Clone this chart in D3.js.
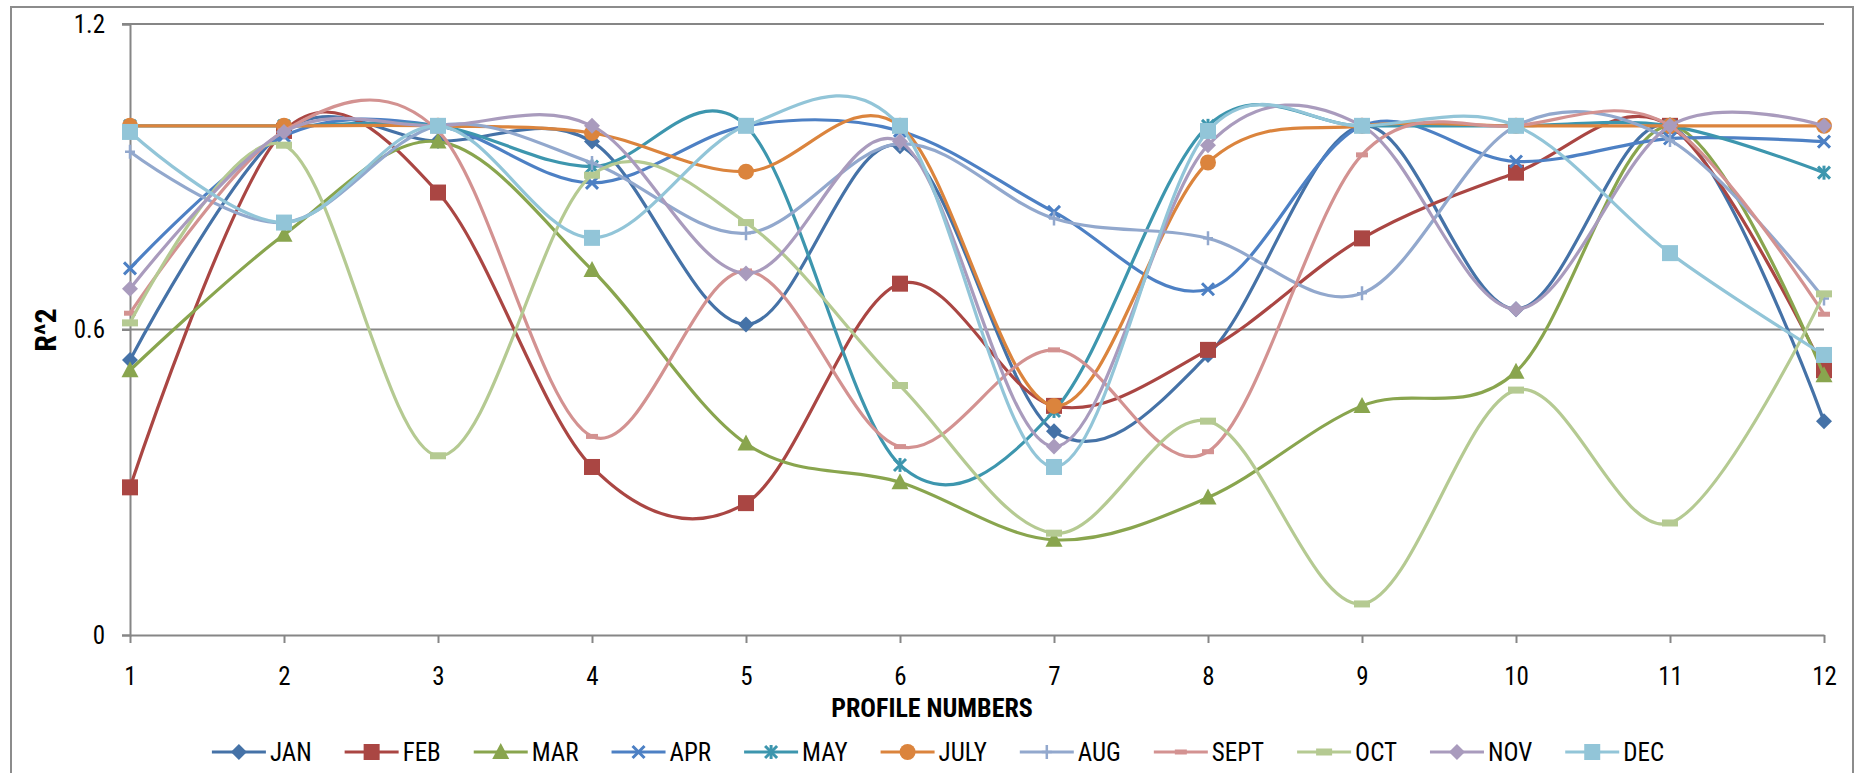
<!DOCTYPE html>
<html>
<head>
<meta charset="utf-8">
<script src="https://cdnjs.cloudflare.com/ajax/libs/d3/7.8.5/d3.min.js"></script>
<style>
  body { margin: 0; background: #fff; }
  svg text { font-family: "Liberation Sans Narrow", "Arial Narrow", "Roboto Condensed", "DejaVu Sans Condensed", sans-serif; fill: #000; }
</style>
</head>
<body>
<div id="chart_box"></div>
<script>
// profile numbers on the x axis
profileNumbers = [1, 2, 3, 4, 5, 6, 7, 8, 9, 10, 11, 12]
yTickValues = [0, 0.6, 1.2]
yTickLabels = ["0", "0.6", "1.2"]

monthNames = ["JAN", "FEB", "MAR", "APR", "MAY", "JULY", "AUG", "SEPT", "OCT", "NOV", "DEC"]
monthColors = ["#4572A7", "#AA4643", "#89A54E", "#4D80C4", "#3D96AE", "#DB843D", "#92A8CD", "#D39291", "#B5CA92", "#A99BBD", "#92C5D8"]
monthMarkers = ["diamond", "square", "triangle", "cross", "star", "circle", "plus", "dash", "bar", "diamond", "square"]

// R^2 per profile
janValues = [0.54, 0.99, 0.97, 0.969, 0.61, 0.96, 0.40, 0.55, 1.0, 0.64, 1.0, 0.42]
febValues = [0.29, 0.99, 0.869, 0.33, 0.259, 0.69, 0.45, 0.56, 0.779, 0.908, 1.0, 0.52]
marValues = [0.52, 0.786, 0.969, 0.717, 0.376, 0.30, 0.187, 0.27, 0.45, 0.517, 1.0, 0.51]
aprValues = [0.72, 0.98, 1.0, 0.888, 1.0, 0.99, 0.831, 0.679, 1.0, 0.93, 0.975, 0.969]
mayValues = [1.0, 1.0, 1.0, 0.92, 1.0, 0.334, 0.44, 1.0, 1.0, 1.0, 1.0, 0.908]
julyValues = [1.0, 1.0, 1.0, 0.986, 0.91, 1.0, 0.45, 0.928, 1.0, 1.0, 1.0, 1.0]
augValues = [0.949, 0.81, 1.0, 0.927, 0.789, 0.965, 0.818, 0.779, 0.671, 1.0, 0.972, 0.661]
septValues = [0.632, 0.99, 0.99, 0.39, 0.715, 0.37, 0.56, 0.36, 0.943, 1.0, 1.0, 0.63]
octValues = [0.613, 0.962, 0.352, 0.903, 0.81, 0.49, 0.20, 0.42, 0.061, 0.481, 0.22, 0.67]
novValues = [0.68, 0.988, 1.0, 1.0, 0.71, 0.969, 0.37, 0.962, 1.0, 0.64, 1.0, 1.0]
decValues = [0.988, 0.81, 1.0, 0.78, 1.0, 1.0, 0.33, 0.99, 1.0, 1.0, 0.75, 0.55]

monthValues = [janValues, febValues, marValues, aprValues, mayValues, julyValues,
    augValues, septValues, octValues, novValues, decValues]

chartWidth = 1856
chartHeight = 773
plotLeft = 130
plotRight = 1824
plotTop = 24
plotBottom = 635
axisColor = "#868686"


function draw_marker(g, shape, color) {
    if (shape == "diamond") {
        g.append("path").attr("d", "M0,-8L8,0L0,8L-8,0Z").attr("fill", color)
    } else if (shape == "square") {
        g.append("rect").attr("x", -8).attr("y", -8).attr("width", 16).attr("height", 16).attr("fill", color)
    } else if (shape == "triangle") {
        g.append("path").attr("d", "M0,-9L8.5,7L-8.5,7Z").attr("fill", color)
    } else if (shape == "circle") {
        g.append("circle").attr("r", 8).attr("fill", color)
    } else if (shape == "cross" || shape == "star") {
        g.append("path").attr("d", "M-6,-6L6,6M-6,6L6,-6")
            .attr("stroke", color).attr("stroke-width", 3).attr("fill", "none")
        if (shape == "star") {
            g.append("path").attr("d", "M0,-7L0,7")
                .attr("stroke", color).attr("stroke-width", 3)
        }
    } else if (shape == "plus") {
        g.append("path").attr("d", "M-5,0L5,0M0,-7L0,7")
            .attr("stroke", color).attr("stroke-width", 2.5).attr("fill", "none")
    } else if (shape == "dash") {
        g.append("rect").attr("x", -6).attr("y", -2.5).attr("width", 12).attr("height", 5).attr("fill", color)
    } else if (shape == "bar") {
        g.append("rect").attr("x", -8).attr("y", -3.5).attr("width", 16).attr("height", 7).attr("fill", color)
    }
}

function create_chart() {
    const svg = d3.select("#chart_box").append("svg")
        .attr("width", chartWidth)
        .attr("height", chartHeight)

    // outer chart border
    svg.append("rect")
        .attr("x", 11).attr("y", 7)
        .attr("width", 1842).attr("height", 780)
        .attr("fill", "white")
        .attr("stroke", "#8c8c8c")
        .attr("stroke-width", 2)

    const xScale = d3.scaleLinear()
        .domain([1, 12])
        .range([plotLeft, plotRight])

    const yScale = d3.scaleLinear()
        .domain([0, 1.2])
        .range([plotBottom, plotTop])

    // horizontal gridlines
    svg.append("g")
        .selectAll("line")
        .data(yTickValues.slice(1))
        .join("line")
        .attr("x1", plotLeft - 8)
        .attr("x2", plotRight)
        .attr("y1", d => yScale(d))
        .attr("y2", d => yScale(d))
        .attr("stroke", axisColor)
        .attr("stroke-width", 2)

    // y axis
    const yAxis = svg.append("g")
        .attr("transform", "translate(" + plotLeft + ",0)")
        .call(d3.axisLeft(yScale).tickValues(yTickValues).tickSize(8).tickPadding(17)
            .tickFormat((d, i) => yTickLabels[i]))
    yAxis.select(".domain").attr("stroke", axisColor).attr("stroke-width", 2)
    yAxis.selectAll(".tick line").attr("stroke", axisColor).attr("stroke-width", 2)
    yAxis.selectAll(".tick text").attr("font-size", 25).attr("font-family", null)

    // x axis
    const xAxis = svg.append("g")
        .attr("transform", "translate(0," + plotBottom + ")")
        .call(d3.axisBottom(xScale).tickValues(profileNumbers).tickSize(8).tickPadding(24)
            .tickFormat(d3.format("d")).tickSizeOuter(0))
    xAxis.select(".domain").attr("stroke", axisColor).attr("stroke-width", 2)
    xAxis.selectAll(".tick line").attr("stroke", axisColor).attr("stroke-width", 2)
    xAxis.selectAll(".tick text").attr("font-size", 25).attr("font-family", null)
        .attr("dy", "0.35em").attr("y", 41)

    // axis titles
    svg.append("text")
        .attr("x", 932).attr("y", 717)
        .attr("text-anchor", "middle")
        .attr("font-size", 26).attr("font-weight", "bold")
        .text("PROFILE NUMBERS")

    svg.append("text")
        .attr("transform", "translate(56,330) rotate(-90)")
        .attr("text-anchor", "middle")
        .attr("font-size", 30).attr("font-weight", "bold")
        .text("R^2")

    // smoothed lines, like excel's smoothed line chart
    const line = d3.line()
        .x((d, i) => xScale(profileNumbers[i]))
        .y(d => yScale(d))
        .curve(d3.curveCardinal.tension(0))

    const series = svg.append("g")
    for (let m = 0; m < monthNames.length; m++) {
        const g = series.append("g")
        g.append("path")
            .attr("d", line(monthValues[m]))
            .attr("fill", "none")
            .attr("stroke", monthColors[m])
            .attr("stroke-width", 3.2)

        for (let i = 0; i < profileNumbers.length; i++) {
            const mk = g.append("g")
                .attr("transform", "translate(" + xScale(profileNumbers[i]) + "," + yScale(monthValues[m][i]) + ")")
            draw_marker(mk, monthMarkers[m], monthColors[m])
        }
    }

    // legend along the bottom
    const legend = svg.append("g")
    let legendX = 0
    const legendY = 752
    const legendGap = 33
    for (let m = 0; m < monthNames.length; m++) {
        const item = legend.append("g").attr("transform", "translate(" + legendX + "," + legendY + ")")
        item.append("line")
            .attr("x1", 0).attr("x2", 54)
            .attr("stroke", monthColors[m]).attr("stroke-width", 3.2)
        const mk = item.append("g").attr("transform", "translate(27,0)")
        draw_marker(mk, monthMarkers[m], monthColors[m])
        const label = item.append("text")
            .attr("x", 58)
            .attr("dy", "0.35em")
            .attr("font-size", 25)
            .text(monthNames[m])
        legendX += 58 + label.node().getComputedTextLength() + legendGap
    }
    const legendWidth = legendX - legendGap
    legend.attr("transform", "translate(" + (938 - legendWidth / 2) + ",0)")
}

create_chart()
</script>
</body>
</html>
